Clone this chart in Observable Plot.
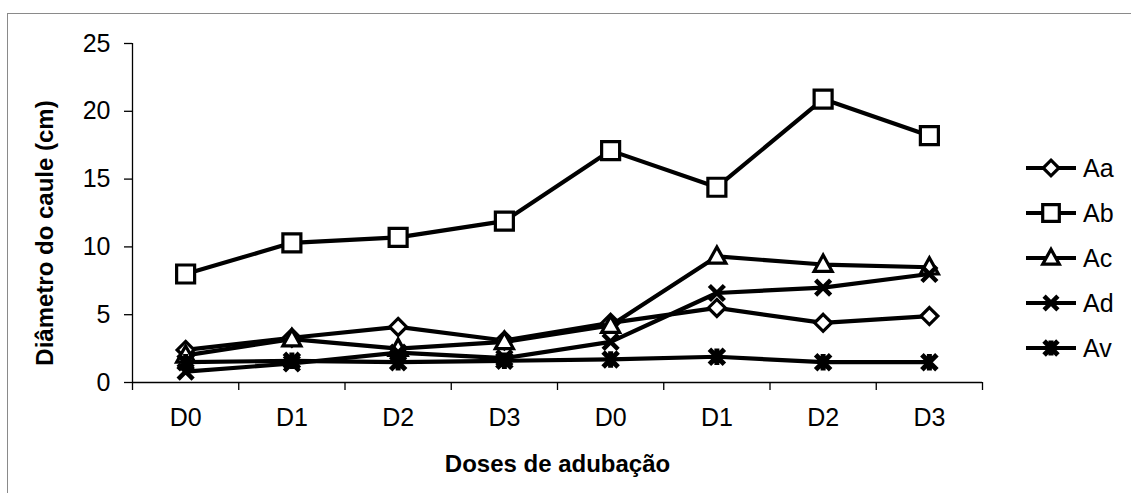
<!DOCTYPE html>
<html>
<head>
<meta charset="utf-8">
<script src="https://cdn.jsdelivr.net/npm/d3@7"></script>
<script src="https://cdn.jsdelivr.net/npm/@observablehq/plot@0.6"></script>
<style>
  html, body { margin: 0; padding: 0; background: #fff; overflow: hidden; }
  #wrap { position: relative; width: 1131px; height: 493px; }
  #frame { position: absolute; left: 7px; top: 13px; width: 1200px; height: 600px;
           border-left: 1.5px solid #8a8a8a; border-top: 1.5px solid #8a8a8a; }
  #wrap svg { position: absolute; left: 0; top: 0; }
</style>
</head>
<body>
<div id="wrap"><div id="frame"></div></div>
<script>
// Doses along the horizontal axis (two blocks of D0–D3)
const doses = ["D0", "D1", "D2", "D3", "D0", "D1", "D2", "D3"];
const seriesNames = ["Aa", "Ab", "Ac", "Ad", "Av"];

// Stem diameter (cm) per series
const Aa = [2.4, 3.3, 4.1, 3.1, 4.4, 5.5, 4.4, 4.9];
const Ab = [8.0, 10.3, 10.7, 11.9, 17.1, 14.4, 20.9, 18.2];
const Ac = [2.0, 3.2, 2.5, 3.0, 4.2, 9.3, 8.7, 8.5];
const Ad = [0.8, 1.4, 2.2, 1.8, 3.0, 6.6, 7.0, 8.0];
const Av = [1.5, 1.6, 1.5, 1.6, 1.7, 1.9, 1.5, 1.5];

const yTicks = [0, 5, 10, 15, 20, 25];

const FONT = "'Liberation Sans', Arial, sans-serif";

// Marker shapes (d3/Plot custom symbol objects)
const rad = (size) => Math.sqrt(size / Math.PI);
const diamond = { draw(c, s) { const r = rad(s); c.moveTo(0, -r); c.lineTo(r, 0); c.lineTo(0, r); c.lineTo(-r, 0); c.closePath(); } };
const square = { draw(c, s) { const r = rad(s); c.moveTo(-r, -r); c.lineTo(r, -r); c.lineTo(r, r); c.lineTo(-r, r); c.closePath(); } };
const triangle = { draw(c, s) { const r = rad(s); c.moveTo(0, -r * 1.05); c.lineTo(r, r * 0.75); c.lineTo(-r, r * 0.75); c.closePath(); } };
const times = { draw(c, s) { const r = rad(s); c.moveTo(-r, -r); c.lineTo(r, r); c.moveTo(r, -r); c.lineTo(-r, r); } };
const star = { draw(c, s) { const r = rad(s); c.moveTo(-r, -r); c.lineTo(r, r); c.moveTo(r, -r); c.lineTo(-r, r); c.moveTo(0, -r * 1.1); c.lineTo(0, r * 1.1); } };

const styles = {
  Aa: { values: Aa, symbol: diamond, r: 8.5, fill: "white", sw: 3.2 },
  Ab: { values: Ab, symbol: square, r: 9, fill: "white", sw: 3.2 },
  Ac: { values: Ac, symbol: triangle, r: 9, fill: "white", sw: 3.2 },
  Ad: { values: Ad, symbol: times, r: 7.5, fill: "none", sw: 4.5 },
  Av: { values: Av, symbol: star, r: 7.5, fill: "none", sw: 5 }
};

const rows = (name) => styles[name].values.map((v, i) => ({ i: i + 0.5, v, name }));

const seriesMarks = seriesNames.flatMap((name) => {
  const st = styles[name];
  const d = rows(name);
  return [
    Plot.line(d, { x: "i", y: "v", stroke: "black", strokeWidth: 4.2, strokeLinejoin: "round" }),
    Plot.dot(d, { x: "i", y: "v", symbol: st.symbol, r: st.r, fill: st.fill, stroke: "black", strokeWidth: st.sw })
  ];
});

const chart = Plot.plot({
  width: 1131,
  height: 493,
  marginLeft: 132,
  marginRight: 149,
  marginTop: 43,
  marginBottom: 111,
  style: { fontFamily: FONT, fontSize: "25px", color: "black", background: "transparent" },
  x: { type: "linear", domain: [0, 8] },
  y: { domain: [0, 25] },
  marks: [
    Plot.axisY({ ticks: yTicks, tickSize: 8, tickPadding: 14, label: null, strokeWidth: 1.3, fontSize: 25 }),
    Plot.axisX({ ticks: d3.range(0, 9), tickSize: 8, tickFormat: () => "", label: null, strokeWidth: 1.3 }),
    Plot.axisX({ ticks: doses.map((_, i) => i + 0.5), tickSize: 0, tickPadding: 26, tickFormat: (t) => doses[Math.floor(t)], label: null, fontSize: 25 }),
    Plot.ruleX([0], { stroke: "black", strokeWidth: 1.3 }),
    Plot.ruleY([0], { stroke: "black", strokeWidth: 1.3 }),
    Plot.text(["Diâmetro do caule (cm)"], { frameAnchor: "left", textAnchor: "middle", dx: -87, dy: 20, rotate: -90, fontWeight: "bold", fontSize: 24 }),
    Plot.text(["Doses de adubação"], { frameAnchor: "bottom", dy: 89, fontWeight: "bold", fontSize: 24 }),
    ...seriesMarks
  ]
});
document.getElementById("wrap").appendChild(chart);

// Legend on the right
const legend = d3.create("svg")
  .attr("width", 1131).attr("height", 493)
  .style("font-family", FONT)
  .style("font-size", "25px");
seriesNames.forEach((name, k) => {
  const st = styles[name];
  const y = 168 + 45 * k;
  const g = legend.append("g").attr("transform", `translate(0,${y})`);
  g.append("line").attr("x1", 1026).attr("x2", 1076).attr("y1", 0).attr("y2", 0)
    .attr("stroke", "black").attr("stroke-width", 4.2);
  g.append("path")
    .attr("transform", "translate(1051,0)")
    .attr("d", d3.symbol().type(st.symbol).size(Math.PI * st.r * st.r * 0.85)())
    .attr("fill", st.fill === "none" ? "none" : "white")
    .attr("stroke", "black").attr("stroke-width", st.sw);
  g.append("text").attr("x", 1083).attr("y", 0).attr("dy", "0.35em").text(name);
});
document.getElementById("wrap").appendChild(legend.node());
</script>
</body>
</html>
